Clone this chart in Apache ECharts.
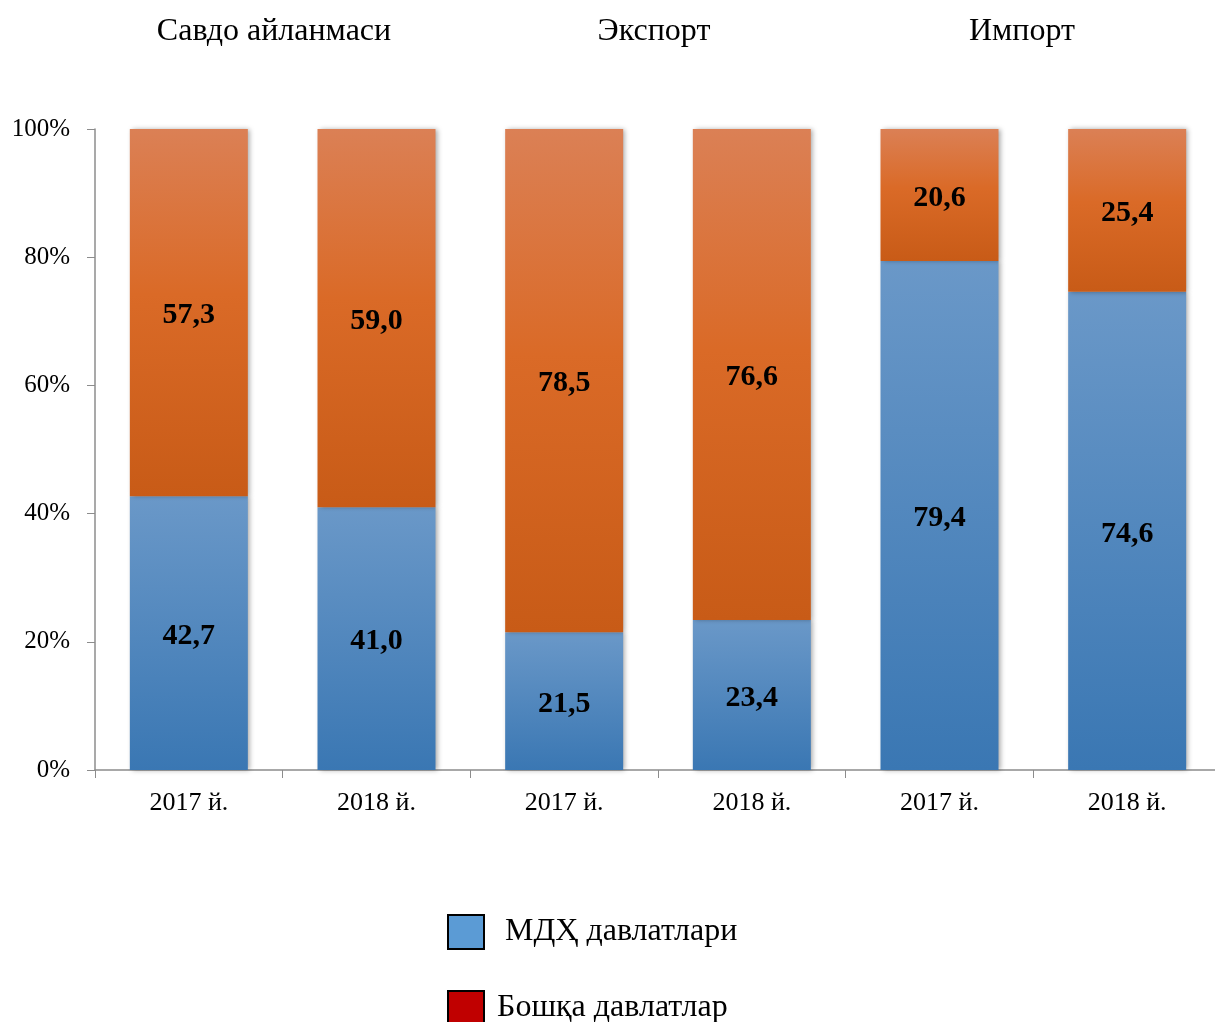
<!DOCTYPE html>
<html><head><meta charset="utf-8">
<script src="https://cdn.jsdelivr.net/npm/echarts@6/dist/echarts.min.js"></script>
<style>html,body{margin:0;padding:0;background:#fff;overflow:hidden}#c{width:1215px;height:1022px}</style>
</head><body><div id="c"></div>
<script>
const categories = ['2017 й.', '2018 й.', '2017 й.', '2018 й.', '2017 й.', '2018 й.'];
const groupTitles = ['Савдо айланмаси', 'Экспорт', 'Импорт'];
const seriesNames = ['МДҲ давлатлари', 'Бошқа давлатлар'];
const cisValues = [42.7, 41.0, 21.5, 23.4, 79.4, 74.6];
const otherValues = [57.3, 59.0, 78.5, 76.6, 20.6, 25.4];
const yTicks = [0, 20, 40, 60, 80, 100];

const F = '"Liberation Serif", "Times New Roman", serif';
const chart = echarts.init(document.getElementById('c'));
const grad = (top, bottom) => ({type:'linear', x:0, y:0, x2:0, y2:1, colorStops:[{offset:0,color:top},{offset:1,color:bottom}]});
const orangeGrad = {type:'linear', x:0, y:0, x2:0, y2:1, colorStops:[{offset:0,color:'#DB8055'},{offset:0.45,color:'#DA6A27'},{offset:1,color:'#C85B17'}]};
const fmt = p => p.value.toFixed(1).replace('.', ',');
const labelStyle = {show:true, position:'inside', offset:[0,3], formatter:fmt, fontFamily:F, fontWeight:'bold', fontSize:30, color:'#000'};
const shadow = {shadowBlur:5, shadowColor:'rgba(0,0,0,0.35)', shadowOffsetX:2, shadowOffsetY:0};

chart.setOption({
  animation:false,
  title: groupTitles.map((t,i)=>({text:t, left:[274,654,1022][i], top:16, textAlign:'center', padding:0,
    textStyle:{fontFamily:F, fontSize:32, fontWeight:'normal', color:'#000'}})),
  legend:{orient:'vertical', left:447, top:914, padding:0, itemWidth:36, itemHeight:34, itemGap:40, height:120,
    icon:'rect',
    textStyle:{fontFamily:F, fontSize:32, color:'#000', padding:[4,0,0,16]},
    data:[
      {name:seriesNames[0], itemStyle:{color:'#5B9BD5', borderColor:'#000', borderWidth:2}},
      {name:seriesNames[1], itemStyle:{color:'#C00000', borderColor:'#000', borderWidth:2}, textStyle:{padding:[2,0,0,8]}}
    ]},
  grid:{left:95, width:1126, top:129, height:641, outerBoundsMode:'none', containLabel:false},
  xAxis:{type:'category', data:categories,
    axisLine:{lineStyle:{color:'#8C8C8C', width:1.5}},
    axisTick:{show:true, length:8, lineStyle:{color:'#8C8C8C'}},
    axisLabel:{fontFamily:F, fontSize:26, color:'#000', margin:20}},
  yAxis:{type:'value', min:0, max:100, interval:20,
    axisLine:{show:true, lineStyle:{color:'#8C8C8C', width:1.5}},
    axisTick:{show:true, length:8, lineStyle:{color:'#8C8C8C'}},
    splitLine:{show:false},
    axisLabel:{fontFamily:F, fontSize:25, color:'#000', margin:25, formatter: v => v + '%'}},
  series:[
    {name:seriesNames[0], type:'bar', stack:'s', barWidth:118, data:cisValues,
     itemStyle:Object.assign({color:grad('#6A98C8','#3A77B3')}, shadow), label:labelStyle},
    {name:seriesNames[1], type:'bar', stack:'s', barWidth:118, data:otherValues,
     itemStyle:Object.assign({color:orangeGrad}, shadow), label:labelStyle}
  ]
});
</script></body></html>
